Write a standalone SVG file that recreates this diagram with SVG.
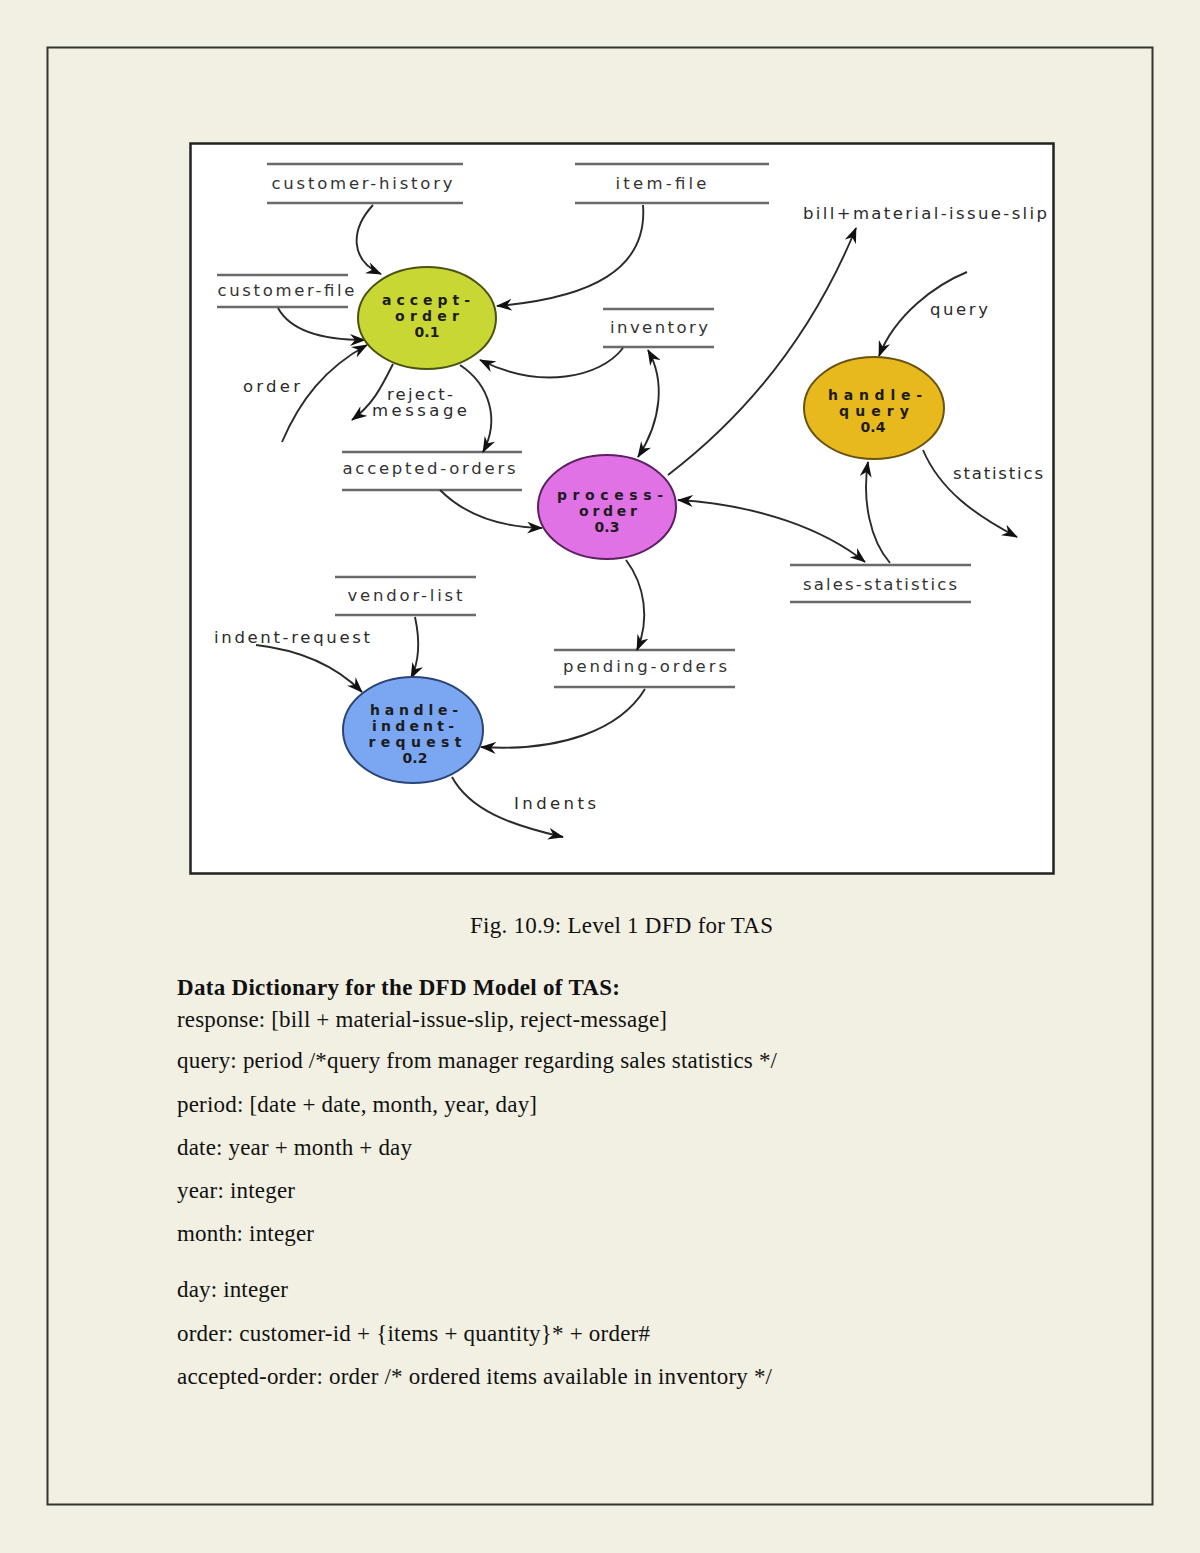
<svg xmlns="http://www.w3.org/2000/svg" width="1200" height="1553" viewBox="0 0 1200 1553">
<defs>
<style>
.store line{stroke:#6a6a6a;stroke-width:2.5}
.stxt{font-family:"DejaVu Sans",sans-serif;font-size:16.5px;fill:#333;text-anchor:middle}
.lbl{font-family:"DejaVu Sans",sans-serif;font-size:16.5px;fill:#2a2a2a}
.ptxt{font-family:"DejaVu Sans",sans-serif;font-size:14px;font-weight:bold;fill:#1c1c1c;text-anchor:middle}
.conn path{fill:none;stroke:#2a2a2a;stroke-width:1.9}
.doc{font-family:"Liberation Serif",serif;font-size:23px;fill:#111}
</style>
<marker id="ah" viewBox="0 0 16 12" refX="15" refY="6" markerWidth="16" markerHeight="12" markerUnits="userSpaceOnUse" orient="auto-start-reverse">
<path d="M0,0 L16,6 L0,12 L5,6 z" fill="#111"/>
</marker>
</defs>
<rect x="0" y="0" width="1200" height="1553" fill="#f2f0e2"/>
<rect x="47.5" y="47.5" width="1105" height="1457" fill="none" stroke="#333" stroke-width="2"/>
<rect x="190.5" y="143.5" width="863" height="730" fill="#fff" stroke="#222" stroke-width="2.5"/>

<g id="customer-history" class="store">
<line x1="267" y1="164" x2="463" y2="164"/><line x1="267" y1="203" x2="463" y2="203"/>
<text class="stxt" x="362" y="189" textLength="181">customer-history</text>
</g>
<g id="item-file" class="store">
<line x1="575" y1="164" x2="769" y2="164"/><line x1="575" y1="203" x2="769" y2="203"/>
<text class="stxt" x="661" y="189" textLength="91">item-file</text>
</g>
<g id="customer-file" class="store">
<line x1="217" y1="275" x2="348" y2="275"/><line x1="217" y1="307" x2="348" y2="307"/>
<text class="stxt" x="286" y="296" textLength="137">customer-file</text>
</g>
<g id="inventory" class="store">
<line x1="603" y1="309" x2="714" y2="309"/><line x1="603" y1="347" x2="714" y2="347"/>
<text class="stxt" x="659" y="333" textLength="98">inventory</text>
</g>
<g id="accepted-orders" class="store">
<line x1="342" y1="452" x2="522" y2="452"/><line x1="342" y1="490" x2="522" y2="490"/>
<text class="stxt" x="429" y="474" textLength="173">accepted-orders</text>
</g>
<g id="sales-statistics" class="store">
<line x1="790" y1="565" x2="971" y2="565"/><line x1="790" y1="602" x2="971" y2="602"/>
<text class="stxt" x="880" y="590" textLength="154">sales-statistics</text>
</g>
<g id="vendor-list" class="store">
<line x1="335" y1="577" x2="476" y2="577"/><line x1="335" y1="615" x2="476" y2="615"/>
<text class="stxt" x="405" y="601" textLength="115">vendor-list</text>
</g>
<g id="pending-orders" class="store">
<line x1="554" y1="650" x2="735" y2="650"/><line x1="554" y1="687" x2="735" y2="687"/>
<text class="stxt" x="645" y="672" textLength="164">pending-orders</text>
</g>

<g id="connectors" class="conn">
<path d="M373,205 C350,230 350,260 381,274" marker-end="url(#ah)"/>
<path d="M643,205 C648,270 590,298 497,306" marker-end="url(#ah)"/>
<path d="M278,308 C290,330 320,340 365,340" marker-end="url(#ah)"/>
<path d="M282,442 C300,400 325,368 367,345" marker-end="url(#ah)"/>
<path d="M393,364 C380,390 372,405 352,420" marker-end="url(#ah)"/>
<path d="M460,365 C490,385 500,420 483,452" marker-end="url(#ah)"/>
<path d="M623,348 C600,378 540,390 480,360" marker-end="url(#ah)"/>
<path d="M648,350 C665,380 662,420 638,457" marker-start="url(#ah)" marker-end="url(#ah)"/>
<path d="M440,490 C465,515 500,527 542,528" marker-end="url(#ah)"/>
<path d="M668,475 C740,420 810,340 856,228" marker-end="url(#ah)"/>
<path d="M967,272 C935,285 895,315 879,356" marker-end="url(#ah)"/>
<path d="M923,450 C940,490 975,515 1017,537" marker-end="url(#ah)"/>
<path d="M678,500 C760,505 825,530 865,562" marker-start="url(#ah)" marker-end="url(#ah)"/>
<path d="M890,563 C870,540 862,500 868,462" marker-end="url(#ah)"/>
<path d="M626,560 C645,585 650,620 637,650" marker-end="url(#ah)"/>
<path d="M415,617 C420,640 420,660 411,678" marker-end="url(#ah)"/>
<path d="M256,645 C300,650 335,665 362,692" marker-end="url(#ah)"/>
<path d="M645,689 C620,730 560,752 481,747" marker-end="url(#ah)"/>
<path d="M452,777 C470,810 510,825 563,837" marker-end="url(#ah)"/>
</g>

<g id="flow-labels">
<text class="lbl" x="803" y="219" textLength="244">bill+material-issue-slip</text>
<text class="lbl" x="930" y="315" textLength="58">query</text>
<text class="lbl" x="953" y="479" textLength="90">statistics</text>
<text class="lbl" x="243" y="392" textLength="57">order</text>
<text class="lbl" x="387" y="400" textLength="66">reject-</text>
<text class="lbl" x="372" y="416" textLength="95">message</text>
<text class="lbl" x="214" y="643" textLength="156">indent-request</text>
<text class="lbl" x="514" y="809" textLength="82">Indents</text>
</g>

<g id="accept-order">
<ellipse cx="427" cy="318" rx="69" ry="51" fill="#c8d734" stroke="#4a5212" stroke-width="2"/>
<text class="ptxt" x="426" y="305" textLength="88">accept-</text>
<text class="ptxt" x="427" y="321" textLength="64">order</text>
<text class="ptxt" x="427" y="337">0.1</text>
</g>
<g id="process-order">
<ellipse cx="607" cy="507" rx="69" ry="52" fill="#e072e6" stroke="#5a2060" stroke-width="2"/>
<text class="ptxt" x="610" y="500" textLength="106">process-</text>
<text class="ptxt" x="608" y="516" textLength="58">order</text>
<text class="ptxt" x="607" y="532">0.3</text>
</g>
<g id="handle-query">
<ellipse cx="874" cy="408" rx="70" ry="51" fill="#e7b91c" stroke="#6a5210" stroke-width="2"/>
<text class="ptxt" x="875" y="400" textLength="94">handle-</text>
<text class="ptxt" x="874" y="416" textLength="70">query</text>
<text class="ptxt" x="873" y="432">0.4</text>
</g>
<g id="handle-indent-request">
<ellipse cx="413" cy="730" rx="70" ry="53" fill="#7ba7f2" stroke="#2a4575" stroke-width="2"/>
<text class="ptxt" x="414" y="715" textLength="88">handle-</text>
<text class="ptxt" x="413" y="731" textLength="82">indent-</text>
<text class="ptxt" x="415" y="747" textLength="93">request</text>
<text class="ptxt" x="415" y="763">0.2</text>
</g>

<g id="caption">
<text class="doc" x="470" y="933" textLength="303">Fig. 10.9: Level 1 DFD for TAS</text>
</g>
<g id="dictionary">
<text class="doc" x="177" y="995" font-weight="bold" textLength="443">Data Dictionary for the DFD Model of TAS:</text>
<text class="doc" x="177" y="1027" textLength="490">response: [bill + material-issue-slip, reject-message]</text>
<text class="doc" x="177" y="1068" textLength="600">query: period /*query from manager regarding sales statistics */</text>
<text class="doc" x="177" y="1112" textLength="360">period: [date + date, month, year, day]</text>
<text class="doc" x="177" y="1155" textLength="235">date: year + month + day</text>
<text class="doc" x="177" y="1198" textLength="118">year: integer</text>
<text class="doc" x="177" y="1241" textLength="137">month: integer</text>
<text class="doc" x="177" y="1297" textLength="111">day: integer</text>
<text class="doc" x="177" y="1341" textLength="473">order: customer-id + {items + quantity}* + order#</text>
<text class="doc" x="177" y="1384" textLength="595">accepted-order: order /* ordered items available in inventory */</text>
</g>
</svg>
